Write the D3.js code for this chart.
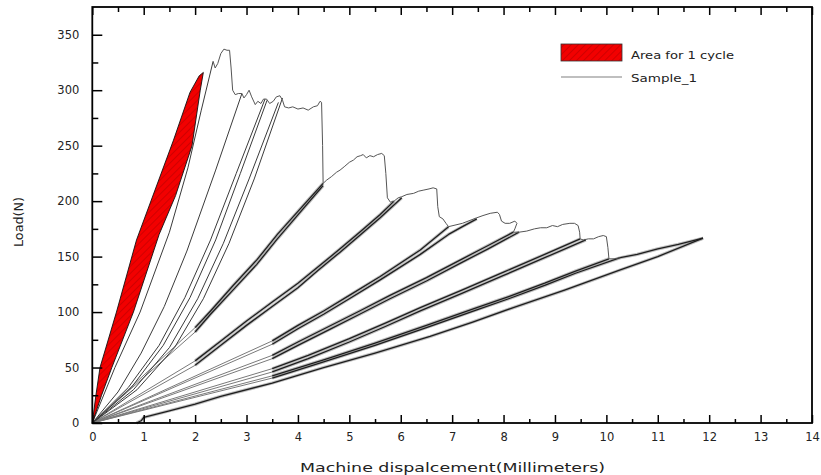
<!DOCTYPE html>
<html><head><meta charset="utf-8">
<script src="https://cdn.jsdelivr.net/npm/d3@7"></script>
<style>body{margin:0;background:#fff}svg{display:block}</style>
</head><body>
<svg id="chart" width="821" height="475"></svg>
<script>
// ---- tick labels ----
const xTicks = [0,1,2,3,4,5,6,7,8,9,10,11,12,13,14];
const xMinorTicks = [0.5,1.5,2.5,3.5,4.5,5.5,6.5,7.5,8.5,9.5,10.5,11.5,12.5,13.5];
const yTicks = [0,50,100,150,200,250,300,350];
const yMinorTicks = [25,75,125,175,225,275,325];
const legendLabels = ["Area for 1 cycle","Sample_1"];

// ---- series: [displacement mm, load N] ----
const cycle1Loading = [[0,0],[0.07,25],[0.15,50],[0.47,100],[0.86,165],[1.22,210],[1.58,255],[1.9,298],[2.08,313],[2.16,316]];
const cycle1Unloading = [[2.16,316],[2.1,300],[1.94,250],[1.62,205],[1.3,170],[0.8,100],[0.38,50],[0.18,25],[0,0]];
const reload2 = [[0,0],[0.44,50],[0.93,100],[1.5,172],[1.86,230],[2.12,282],[2.35,326]];
const envelope = [[2.35,326],[2.39,320],[2.44,324],[2.5,333],[2.56,337],[2.62,336],[2.67,336],[2.7,320],[2.73,300],[2.78,296],[2.84,297],[2.91,297],[2.95,293],[3.0,296],[3.05,300],[3.1,294],[3.17,287],[3.22,290],[3.28,288],[3.33,292],[3.39,292],[3.45,288],[3.52,290],[3.58,294],[3.65,295],[3.7,291],[3.74,285],[3.82,284],[3.9,285],[4.0,283],[4.1,284],[4.2,282],[4.3,285],[4.38,286],[4.43,290],[4.46,289],[4.48,250],[4.49,216],[4.56,219],[4.65,222],[4.75,226],[4.82,228],[4.9,231],[5.0,235],[5.08,237],[5.15,240],[5.22,241],[5.27,242],[5.33,239],[5.4,241],[5.47,240],[5.55,242],[5.63,243],[5.68,241],[5.71,225],[5.74,203],[5.8,199],[5.87,200],[5.95,203],[6.02,204],[6.12,206],[6.25,207],[6.35,209],[6.45,210],[6.55,211],[6.63,212],[6.7,211],[6.72,195],[6.75,186],[6.82,184],[6.88,180],[6.93,177],[7.2,180],[7.48,185],[7.6,187],[7.74,189],[7.88,190],[7.92,188],[7.96,182],[8.03,180],[8.12,180],[8.22,182],[8.26,180],[8.22,175],[8.19,172],[8.3,172],[8.45,173],[8.6,175],[8.72,176],[8.84,176],[8.95,178],[9.05,177],[9.15,179],[9.29,180],[9.38,180],[9.45,178],[9.48,172],[9.49,166],[9.55,165],[9.65,166],[9.75,166],[9.85,168],[9.94,169],[10.0,168],[10.03,158],[10.05,148],[10.15,148],[10.27,149]];
const unloadA = [[2.91,297],[2.4,228],[1.84,155],[1.4,105],[0.95,63],[0.5,28],[0,0]];
const unloadB = [[3.36,292],[2.8,225],[2.3,165],[1.8,113],[1.3,70],[0.7,32],[0,0]];
const reloadB = [[0,0],[0.76,32],[1.38,70],[1.9,113],[2.4,165],[2.88,225],[3.4,291]];
const unloadC = [[3.62,289],[3.05,220],[2.55,162],[2.05,112],[1.5,68],[0.8,30],[0,0]];
const reloadC = [[0,0],[0.87,30],[1.6,68],[2.16,112],[2.66,162],[3.15,220],[3.7,293]];
const unloadD = [[4.49,216],[4.1,196],[3.6,170],[3.2,147],[2.74,124],[2.3,101],[2.0,86]];
const reloadD = [[2.0,82],[2.3,98],[2.74,120],[3.2,143],[3.6,166],[4.1,193],[4.49,214]];
const unloadE = [[5.87,200],[5.6,188],[5.2,172],[4.82,157],[4.4,141],[4.0,126],[3.5,109],[3.0,92],[2.5,74],[2.0,56]];
const reloadE = [[2.0,52],[2.5,70],[3.0,88],[3.5,105],[4.0,122],[4.4,138],[4.82,154],[5.2,169],[5.6,185],[6.02,203]];
const unloadF = [[6.93,177],[6.38,156],[5.6,132],[5.0,115],[4.5,101],[4.0,88],[3.5,74]];
const reloadF = [[3.5,71],[4.0,85],[4.5,98],[5.0,112],[5.6,129],[6.38,152],[6.93,170],[7.2,177],[7.48,184]];
const unloadG = [[8.19,172],[7.7,160],[7.2,148],[6.5,131],[5.79,115],[5.2,101],[4.6,87],[4.0,73],[3.5,61]];
const reloadG = [[3.5,58],[4.0,70],[4.6,84],[5.2,98],[5.79,112],[6.5,128],[7.2,145],[7.7,157],[8.3,172]];
const unloadH = [[9.49,166],[8.8,152],[8.0,136],[7.2,120],[6.38,104],[5.7,90],[5.0,76],[4.2,61],[3.5,49]];
const reloadH = [[3.5,46],[4.2,58],[5.0,73],[5.7,87],[6.38,101],[7.2,117],[8.0,133],[8.8,149],[9.6,165]];
const unloadI = [[10.05,148],[9.4,137],[8.8,126],[8.1,114],[7.48,104],[6.5,88],[5.5,72],[4.5,57],[3.5,42.5]];
const reloadI = [[3.5,40.5],[4.5,55],[5.5,70],[6.5,86],[7.48,102],[8.1,112],[8.8,124],[9.4,135],[10.27,149],[10.6,152],[11.0,157],[11.4,161],[11.88,166.6]];
const unloadJ = [[11.88,166.6],[11.0,150],[10.27,138],[9.2,120],[8.19,104],[7.4,91],[6.57,78],[5.5,63],[4.5,50],[3.5,36],[2.5,24],[2.0,17],[1.5,11],[1.0,5],[0.95,2],[0.86,0]];

const smoothLines = [reload2, unloadA, unloadB, reloadB, unloadC, reloadC];
const noisyLines = [unloadD, reloadD, unloadE, reloadE, unloadF, reloadF, unloadG, reloadG, unloadH, reloadH, unloadI, reloadI, unloadJ];

// ---- layout ----
const svg = d3.select("#chart");
const W = 821, H = 475;
const m = {left: 92.3, right: 812, top: 7, bottom: 423};
const x = d3.scaleLinear().domain([0,14]).range([m.left, m.right]);
const y = d3.scaleLinear().domain([0,375]).range([m.bottom, m.top]);
const line = d3.line().x(d => x(d[0])).y(d => y(d[1]));

svg.append("rect").attr("width", W).attr("height", H).attr("fill", "#fff");

const defs = svg.append("defs");
const pat = defs.append("pattern").attr("id","hatch").attr("patternUnits","userSpaceOnUse")
  .attr("width",5).attr("height",5).attr("patternTransform","rotate(45)");
pat.append("rect").attr("width",5).attr("height",5).attr("fill","#f20000");
pat.append("line").attr("x1",0).attr("y1",0).attr("x2",0).attr("y2",5)
  .attr("stroke","#c80000").attr("stroke-width",1.6);

const plot = svg.append("g");

// gap segments from origin to first recorded point of noisy branches
noisyLines.forEach(s => {
  const first = s[0][0] < s[s.length-1][0] ? s[0] : s[s.length-1];
  plot.append("path").datum([[0,0], first]).attr("d", line)
    .attr("fill","none").attr("stroke","#7a7a7a").attr("stroke-width",1);
});

smoothLines.forEach(s => {
  plot.append("path").datum(s).attr("d", line)
    .attr("fill","none").attr("stroke","#3a3a3a").attr("stroke-width",1);
});

// noisy bands: soft halo + dark core
noisyLines.forEach(s => {
  plot.append("path").datum(s).attr("d", line)
    .attr("fill","none").attr("stroke","#8a8a8a").attr("stroke-width",3.2)
    .attr("stroke-opacity",0.55).attr("stroke-linejoin","round");
});
noisyLines.forEach(s => {
  plot.append("path").datum(s).attr("d", line)
    .attr("fill","none").attr("stroke","#1e1e1e").attr("stroke-width",1.3)
    .attr("stroke-linejoin","round");
});

plot.append("path").datum(envelope).attr("d", line)
  .attr("fill","none").attr("stroke","#555").attr("stroke-width",1);

// red cycle area
plot.append("path").datum(cycle1Loading.concat(cycle1Unloading.slice(1))).attr("d", line)
  .attr("fill","url(#hatch)").attr("stroke","#111").attr("stroke-width",0.9);

// ---- axes ----
const fontTick = "'DejaVu Sans', sans-serif";
function styleAxis(g){
  g.select(".domain").remove();
  g.selectAll(".tick line").attr("stroke","#000").attr("stroke-width",1.5);
  g.selectAll("text").attr("fill","#222").style("font-family",fontTick).style("font-size","11.5px");
}
svg.append("g").attr("transform",`translate(0,${m.bottom})`)
  .call(d3.axisBottom(x).tickValues(xTicks).tickSize(-8).tickPadding(10).tickFormat(d3.format("d"))).call(styleAxis);
svg.append("g").attr("transform",`translate(0,${m.bottom})`)
  .call(d3.axisBottom(x).tickValues(xMinorTicks).tickSize(-4).tickFormat("")).call(styleAxis);
svg.append("g").attr("transform",`translate(0,${m.top})`)
  .call(d3.axisTop(x).tickValues(xTicks).tickSize(-8).tickFormat("")).call(styleAxis);
svg.append("g").attr("transform",`translate(0,${m.top})`)
  .call(d3.axisTop(x).tickValues(xMinorTicks).tickSize(-5).tickFormat("")).call(styleAxis);
svg.append("g").attr("transform",`translate(${m.left},0)`)
  .call(d3.axisLeft(y).tickValues(yTicks).tickSize(-10).tickPadding(13).tickFormat(d3.format("d"))).call(styleAxis);
svg.append("g").attr("transform",`translate(${m.left},0)`)
  .call(d3.axisLeft(y).tickValues(yMinorTicks).tickSize(-6).tickFormat("")).call(styleAxis);

svg.append("rect").attr("x",m.left).attr("y",m.top)
  .attr("width",m.right-m.left).attr("height",m.bottom-m.top)
  .attr("fill","none").attr("stroke","#000").attr("stroke-width",1.8);

// ---- titles ----
svg.append("text").attr("x",(300+605)/2).attr("y",472).attr("text-anchor","middle")
  .attr("textLength",305).attr("lengthAdjust","spacingAndGlyphs")
  .style("font-family",fontTick).style("font-size","12.5px").attr("fill","#222")
  .text("Machine dispalcement(Millimeters)");
svg.append("text").attr("transform","translate(23,222) rotate(-90)").attr("text-anchor","middle")
  .attr("textLength",50).attr("lengthAdjust","spacingAndGlyphs")
  .style("font-family",fontTick).style("font-size","12.5px").attr("fill","#222")
  .text("Load(N)");

// ---- legend ----
const lg = svg.append("g");
lg.append("rect").attr("x",561).attr("y",44).attr("width",61).attr("height",17)
  .attr("fill","url(#hatch)").attr("stroke","#333").attr("stroke-width",0.8);
lg.append("text").attr("x",631).attr("y",58.5).attr("textLength",103).attr("lengthAdjust","spacingAndGlyphs")
  .style("font-family",fontTick).style("font-size","10px").attr("fill","#222").text(legendLabels[0]);
lg.append("line").attr("x1",561).attr("x2",622).attr("y1",77).attr("y2",77)
  .attr("stroke","#aaa").attr("stroke-width",1.5);
lg.append("text").attr("x",631).attr("y",82).attr("textLength",66).attr("lengthAdjust","spacingAndGlyphs")
  .style("font-family",fontTick).style("font-size","10px").attr("fill","#222").text(legendLabels[1]);
</script>
</body></html>
